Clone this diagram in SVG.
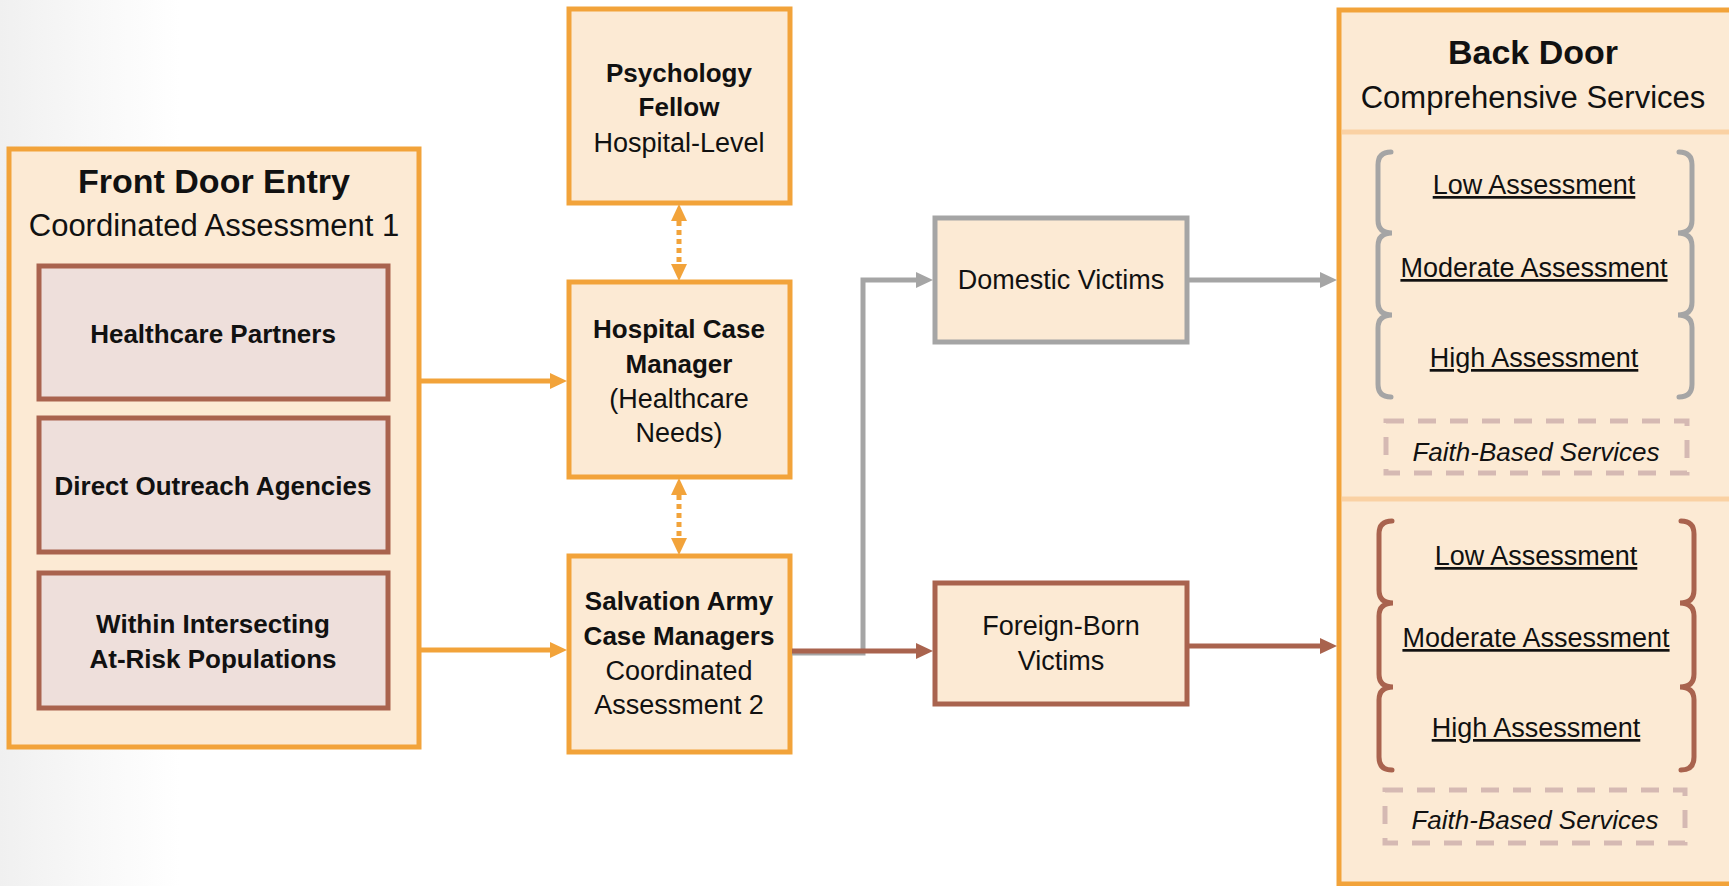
<svg xmlns="http://www.w3.org/2000/svg" width="1729" height="886" viewBox="0 0 1729 886">
<defs>
<linearGradient id="bgGrad" x1="0" y1="0" x2="1" y2="0">
<stop offset="0" stop-color="#F0F0F0"/>
<stop offset="0.5" stop-color="#F8F8F8"/>
<stop offset="1" stop-color="#FFFFFF"/>
</linearGradient>
<marker id="arrO" viewBox="0 0 17 16" markerUnits="userSpaceOnUse" markerWidth="17" markerHeight="16" refX="0" refY="8" orient="auto-start-reverse"><path d="M0,0 L17,8 L0,16 Z" fill="#F2A33A"/></marker>
<marker id="arrG" viewBox="0 0 17 16" markerUnits="userSpaceOnUse" markerWidth="17" markerHeight="16" refX="0" refY="8" orient="auto"><path d="M0,0 L17,8 L0,16 Z" fill="#A5A5A5"/></marker>
<marker id="arrB" viewBox="0 0 17 16" markerUnits="userSpaceOnUse" markerWidth="17" markerHeight="16" refX="0" refY="8" orient="auto"><path d="M0,0 L17,8 L0,16 Z" fill="#A9634E"/></marker>
</defs>
<style>
text{font-family:"Liberation Sans",Arial,sans-serif;fill:#111;text-anchor:middle}
.b{font-weight:bold;font-size:26px}
.r{font-size:27px}
.t{font-weight:bold;font-size:34px}
.st{font-size:31px}
.u{font-size:27px;text-decoration:underline}
.i{font-style:italic;font-size:26px}
.box{fill:#FCEAD4;stroke:#F2A33A;stroke-width:5}
.inner{fill:#EEDFDB;stroke:#A9634E;stroke-width:5}
.gbox{fill:#FCEAD4;stroke:#A5A5A5;stroke-width:5}
.bbox{fill:#FCEAD4;stroke:#A9634E;stroke-width:5}
.dash{fill:none;stroke:#D5B9B3;stroke-width:5;stroke-dasharray:18 14}
.div{stroke:#FAD1A3;stroke-width:5}
.brG{fill:none;stroke:#A5A5A5;stroke-width:5;stroke-linecap:round}
.brB{fill:none;stroke:#A9634E;stroke-width:5;stroke-linecap:round}
.cO{fill:none;stroke:#F2A33A;stroke-width:5}
.cG{fill:none;stroke:#A5A5A5;stroke-width:5}
.cB{fill:none;stroke:#A9634E;stroke-width:5}
.dot{fill:none;stroke:#F2A33A;stroke-width:5;stroke-dasharray:5 4}
</style>
<rect x="0" y="0" width="1729" height="886" fill="#FFFFFF"/>
<rect x="0" y="0" width="180" height="886" fill="url(#bgGrad)"/>

<g id="front-door">
<rect class="box" x="9" y="149" width="410" height="598"/>
<text class="t" x="214" y="193">Front Door Entry</text>
<text class="st" x="214" y="236">Coordinated Assessment 1</text>
</g>
<g id="healthcare-partners">
<rect class="inner" x="39" y="266" width="349" height="133"/>
<text class="b" x="213" y="343">Healthcare Partners</text>
</g>
<g id="direct-outreach">
<rect class="inner" x="39" y="418" width="349" height="134"/>
<text class="b" x="213" y="495">Direct Outreach Agencies</text>
</g>
<g id="within-intersecting">
<rect class="inner" x="39" y="573" width="349" height="135"/>
<text class="b" x="213" y="633">Within Intersecting</text>
<text class="b" x="213" y="668">At-Risk Populations</text>
</g>

<g id="psychology-fellow">
<rect class="box" x="569" y="9" width="221" height="194"/>
<text class="b" x="679" y="82">Psychology</text>
<text class="b" x="679" y="116">Fellow</text>
<text class="r" x="679" y="152">Hospital-Level</text>
</g>
<g id="hospital-case-manager">
<rect class="box" x="569" y="282" width="221" height="195"/>
<text class="b" x="679" y="338">Hospital Case</text>
<text class="b" x="679" y="373">Manager</text>
<text class="r" x="679" y="408">(Healthcare</text>
<text class="r" x="679" y="442">Needs)</text>
</g>
<g id="salvation-army">
<rect class="box" x="569" y="556" width="221" height="196"/>
<text class="b" x="679" y="610">Salvation Army</text>
<text class="b" x="679" y="645">Case Managers</text>
<text class="r" x="679" y="680">Coordinated</text>
<text class="r" x="679" y="714">Assessment 2</text>
</g>

<g id="domestic-victims">
<rect class="gbox" x="935" y="218" width="252" height="124"/>
<text class="r" x="1061" y="289">Domestic Victims</text>
</g>
<g id="foreign-born-victims">
<rect class="bbox" x="935" y="583" width="252" height="121"/>
<text class="r" x="1061" y="635">Foreign-Born</text>
<text class="r" x="1061" y="670">Victims</text>
</g>

<g id="back-door">
<rect class="box" x="1339" y="10" width="400" height="874"/>
<line class="div" x1="1342" y1="132" x2="1729" y2="132"/>
<line class="div" x1="1342" y1="499" x2="1729" y2="499"/>
<text class="t" x="1533" y="64">Back Door</text>
<text class="st" x="1533" y="108">Comprehensive Services</text>
<path class="brG" d="M1391,152 Q1378,152 1378,165 L1378,220 Q1378,233 1392,233 Q1378,233 1378,246 L1378,302 Q1378,315 1392,315 Q1378,315 1378,328 L1378,384 Q1378,397 1391,397"/>
<path class="brG" d="M1679,152 Q1692,152 1692,165 L1692,220 Q1692,233 1678,233 Q1692,233 1692,246 L1692,302 Q1692,315 1678,315 Q1692,315 1692,328 L1692,384 Q1692,397 1679,397"/>
<text class="u" x="1534" y="194">Low Assessment</text>
<text class="u" x="1534" y="277">Moderate Assessment</text>
<text class="u" x="1534" y="367">High Assessment</text>
<rect class="dash" x="1386" y="421" width="301" height="52"/>
<text class="i" x="1536" y="461">Faith-Based Services</text>
<path class="brB" d="M1392,521 Q1379,521 1379,534 L1379,590 Q1379,603 1393,603 Q1379,603 1379,616 L1379,674 Q1379,687 1393,687 Q1379,687 1379,700 L1379,757 Q1379,770 1392,770"/>
<path class="brB" d="M1681,521 Q1694,521 1694,534 L1694,590 Q1694,603 1680,603 Q1694,603 1694,616 L1694,674 Q1694,687 1680,687 Q1694,687 1694,700 L1694,757 Q1694,770 1681,770"/>
<text class="u" x="1536" y="565">Low Assessment</text>
<text class="u" x="1536" y="647">Moderate Assessment</text>
<text class="u" x="1536" y="737">High Assessment</text>
<rect class="dash" x="1385" y="790" width="300" height="53"/>
<text class="i" x="1535" y="829">Faith-Based Services</text>
</g>

<g id="connectors">
<line class="cO" x1="421" y1="381" x2="550" y2="381" marker-end="url(#arrO)"/>
<line class="cO" x1="421" y1="650" x2="550" y2="650" marker-end="url(#arrO)"/>
<line class="dot" x1="679" y1="221" x2="679" y2="264" marker-start="url(#arrO)" marker-end="url(#arrO)"/>
<line class="dot" x1="679" y1="495" x2="679" y2="538" marker-start="url(#arrO)" marker-end="url(#arrO)"/>
<path class="cG" d="M792,653 H863 V280 H916" marker-end="url(#arrG)"/>
<line class="cB" x1="792" y1="651" x2="916" y2="651" marker-end="url(#arrB)"/>
<line class="cG" x1="1189" y1="280" x2="1320" y2="280" marker-end="url(#arrG)"/>
<line class="cB" x1="1189" y1="646" x2="1320" y2="646" marker-end="url(#arrB)"/>
</g>
</svg>
